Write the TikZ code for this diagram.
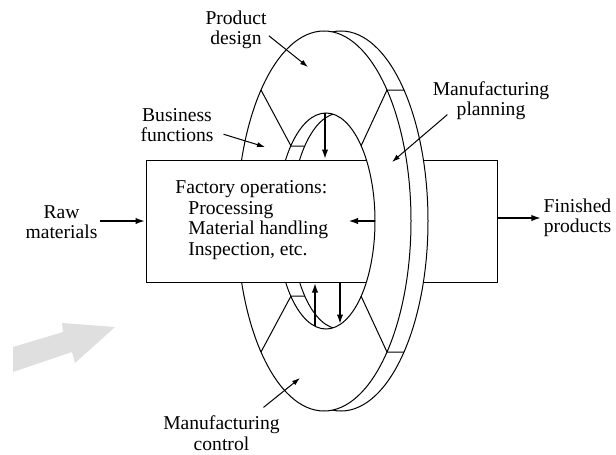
\documentclass[tikz,border=0pt]{standalone}
\usepackage{fontspec}
\setmainfont{Liberation Serif}
\usetikzlibrary{arrows.meta,calc}

\begin{document}
\begin{tikzpicture}[x=0.5pt,y=-0.5pt,
  ring/.style={line width=0.5pt, fill=white},
  flow/.style={line width=1pt, -{Latex[length=5pt,width=3.2pt]}},
  pointer/.style={line width=0.5pt, -{Latex[length=4pt,width=2.6pt]}},
  lbl/.style={align=center, inner sep=1pt, font=\fontsize{9.8}{10.2}\selectfont}]
\useasboundingbox (0,0) rectangle (616,455);

% shaded arrow, lower left
\fill[gray!25] (13,347) -- (63,332) -- (62,323) -- (115,327) -- (75,363) -- (72,352) -- (13,372) -- cycle;

% ring: back face, front face, hole
\draw[ring] (341,221) ellipse[x radius=87, y radius=190];
\draw[ring] (324,221) ellipse[x radius=87, y radius=190];
\draw[line width=0.5pt] (326,221) ellipse[x radius=49, y radius=108];
\begin{scope}
  \clip (326,221) ellipse[x radius=49, y radius=108];
  \draw[line width=0.5pt] (340,221) ellipse[x radius=49, y radius=108];
\end{scope}
\draw[line width=0.5pt] (261,90) -- (291,146) -- (305,146)
  (404,90) -- (387,90) -- (361,146)
  (261,352) -- (291,296) -- (305,296)
  (404,352) -- (387,352) -- (361,296);

% factory box through the ring
\node[draw, line width=0.5pt, fill=white, minimum width=175.5pt, minimum height=61pt, inner sep=0pt] (ops) at (321.5,221) {};
\node[lbl, align=left, anchor=west] (opstext) at (173,220)
  {Factory operations:\\\hspace*{6.5pt}Processing\\\hspace*{6.5pt}Material handling\\\hspace*{6.5pt}Inspection, etc.};

% right half of the ring lies over the box
\begin{scope}
  \clip (326,221) ++(-35:49 and 108) arc[start angle=-35, end angle=35, x radius=49, y radius=108]
    -- (450,283) -- (450,159) -- cycle;
  \draw[ring] (341,221) ellipse[x radius=87, y radius=190];
  \draw[ring] (324,221) ellipse[x radius=87, y radius=190];
\end{scope}
\draw[line width=0.5pt] (326,221) ++(-35:49 and 108) arc[start angle=-35, end angle=35, x radius=49, y radius=108];

% arrows between ring and box
\coordinate (in-top) at (325,113);
\coordinate (in-bl) at (315,326);
\coordinate (in-br) at (340,324.5);
\coordinate (in-r) at (375,221);
\coordinate (fb) at (348,221);
\draw[flow] (in-top) -- (in-top |- ops.north);
\draw[flow] (in-bl) -- (in-bl |- ops.south);
\draw[flow] (in-br |- ops.south) -- (in-br);
\draw[flow] (in-r) -- (fb);

% inputs and outputs
\node[lbl] (raw) at (61.5,222) {Raw\\materials};
\node[lbl] (fin) at (577.5,218) {Finished\\products};
\draw[flow] (ops.west -| raw.east) -- (ops.west);
\draw[flow] (ops.east |- fin.west) -- (fin.west);

% ring labels
\node[lbl] (pd) at (236,30) {Product\\design};
\node[lbl] (bf) at (177,125) {Business\\functions};
\node[lbl] (mp) at (491,101) {Manufacturing\\planning};
\node[lbl] (mc) at (221.5,433) {Manufacturing\\control};
\coordinate (pd-tip) at (308,67);
\coordinate (bf-tip) at (265,147);
\coordinate (mp-tip) at (392,162);
\coordinate (mc-tip) at (300,378);
\draw[pointer] (pd.-10) -- (pd-tip);
\draw[pointer, shorten <=4pt] (bf.-10) -- (bf-tip);
\draw[pointer] ($(mp.south west)+(17,-8)$) -- (mp-tip);
\draw[pointer] ($(mc.north)+(42,-6)$) -- (mc-tip);
\end{tikzpicture}
\end{document}
